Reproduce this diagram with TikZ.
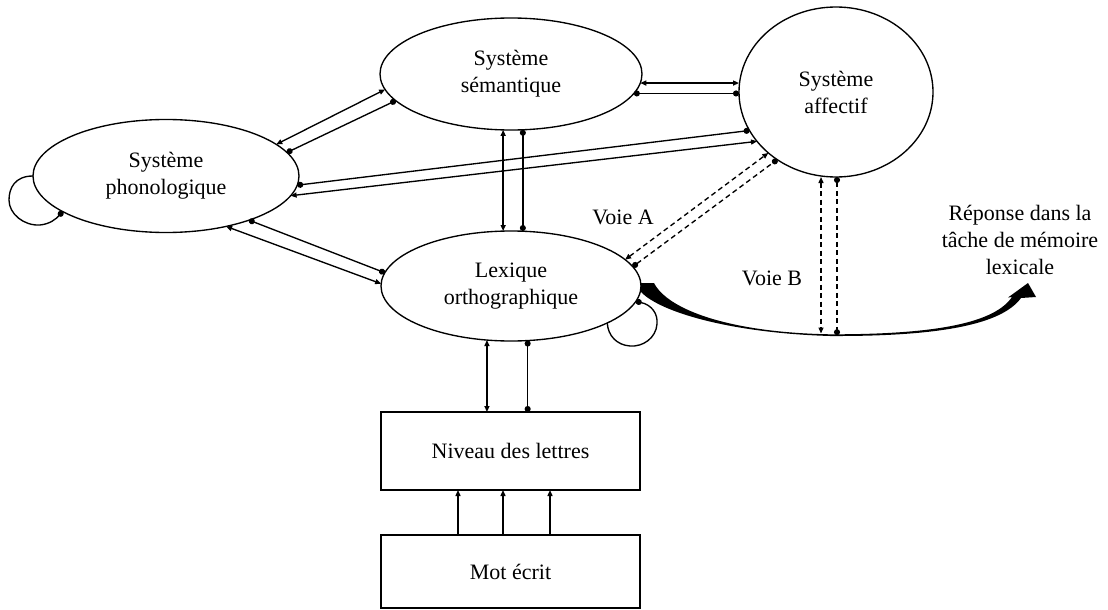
\documentclass[tikz,border=0pt]{standalone}
\usepackage{fontspec}
\setmainfont{Liberation Serif}
\usetikzlibrary{shapes.geometric,arrows.meta}
\tikzset{
  ar/.tip={Triangle[length=6pt,width=5pt]},
  dt/.tip={Circle[length=6pt]},
  base/.style={line width=1.35pt, line cap=butt},
  biar/.style={base, arrows={ar-ar}},
  bidot/.style={base, arrows={dt-dt}},
  uniar/.style={base, arrows={-ar}},
  dsh/.style={dash pattern=on 5pt off 3.5pt},
  ell/.style={ellipse, draw, line width=1.35pt, inner sep=0pt, outer sep=0pt, align=center,
    font=\fontsize{22}{27}\selectfont},
  box/.style={rectangle, draw, line width=1.35pt, inner sep=0pt, outer sep=0pt, align=center,
    font=\fontsize{22}{27}\selectfont},
  lbl/.style={inner sep=0pt, align=center, font=\fontsize{22}{27}\selectfont},
}
\begin{document}
\begin{tikzpicture}[x=1pt,y=-1pt]
\useasboundingbox (0,0) rectangle (1108,610);
% nodes
\node[ell, minimum width=262pt, minimum height=112pt] (sem) at (511,74) {Système\\sémantique};
\node[ell, minimum width=194pt, minimum height=170pt] (aff) at (836,92) {Système\\affectif};
\node[ell, minimum width=266pt, minimum height=113pt] (phono) at (166,176) {Système\\phonologique};
\node[ell, minimum width=260pt, minimum height=110pt] (lex) at (511,286) {Lexique\\orthographique};
\node[box, minimum width=259pt, minimum height=78pt] (niv) at (510.5,451) {Niveau des lettres};
\node[box, minimum width=259pt, minimum height=73pt] (mot) at (510.5,571.5) {Mot écrit};
\node[lbl] (voieA) at (623,217) {Voie A};
\node[lbl] (voieB) at (772,278) {Voie B};
\node[lbl] (rep) at (1020,240) {Réponse dans la\\tâche de mémoire\\lexicale};

% semantique - phonologique
\draw[biar] (sem.187) -- (phono.16.8);
\draw[bidot] (sem.193) -- (phono.11.2);
% semantique - affectif
\draw[biar] (sem.356.5) -- (sem.356.5 -| aff.west);
\draw[bidot] (sem.351) -- (sem.351 -| aff.west);
% semantique - lexique
\draw[biar] (sem.262) -- (sem.262 |- lex.north);
\draw[bidot] (sem.282) -- (sem.282 |- lex.north);
% phonologique - affectif
\draw[bidot] (phono.-4.3) -- (aff.204.9);
\draw[biar] (phono.-9.5) -- (aff.212.8);
% phonologique - lexique
\draw[bidot] (phono.-28.2) -- (lex.174.8);
\draw[biar] (phono.-40.4) -- (lex.179.1);
% voie A
\draw[biar,dsh] (lex.13.8) -- (aff.222.4);
\draw[bidot,dsh] (lex.9.4) -- (aff.229.3);
% lexique - niveau
\draw[biar] (lex.246.4) -- (lex.246.4 |- niv.north);
\draw[bidot] (lex.287.2) -- (lex.287.2 |- niv.north);
% mot - niveau
\draw[uniar] ([xshift=-52.5pt]mot.north) -- ([xshift=-52.5pt]niv.south);
\draw[uniar] ([xshift=-7.5pt]mot.north) -- ([xshift=-7.5pt]niv.south);
\draw[uniar] ([xshift=39.5pt]mot.north) -- ([xshift=39.5pt]niv.south);
% self loops
\draw[base, arrows={-dt}] (phono.180) .. controls (15,176) and (9,188) .. (9,200)
  .. controls (9,214) and (24,226) .. (40,225) .. controls (50,224) and (56,219) .. (phono.199.2);
\draw[base, arrows={dt-}] (lex.-7.4) .. controls (652,305) and (658,314) .. (657,324)
  .. controls (656,338) and (643,347) .. (630,346) .. controls (617,345) and (608,336) .. (lex.-21.9);
% thick curved response arrow
\fill (641,283) -- (654,283) .. controls (668,310) and (730,332.5) .. (830,334.3)
  .. controls (940,334.5) and (995,322) .. (1012,297)
  -- (1008,297.5) -- (1028,283) -- (1036,297) -- (1021,298)
  .. controls (1002,324) and (942,336.5) .. (830,336)
  .. controls (730,333) and (660,312) .. (641,292) -- cycle;
% voie B
\coordinate (vb1) at (821,333.5);
\coordinate (vb2) at (837,335.2);
\draw[biar,dsh] (vb1 |- aff.south) -- (vb1);
\draw[bidot,dsh] (vb2 |- aff.south) -- (vb2);
\end{tikzpicture}
\end{document}
